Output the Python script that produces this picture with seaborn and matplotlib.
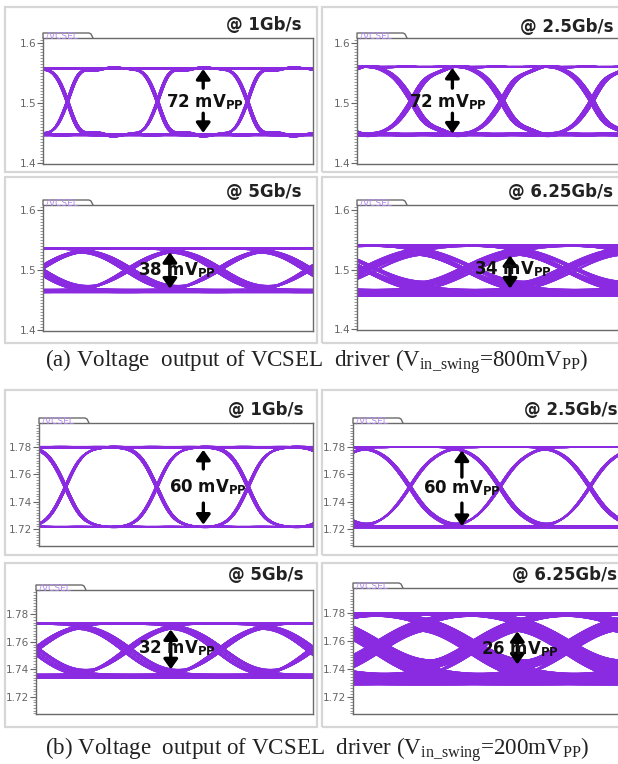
import numpy as np
import pandas as pd
import matplotlib
matplotlib.use('Agg')
import matplotlib.pyplot as plt
import seaborn as sns
from matplotlib.patches import Rectangle
from matplotlib.lines import Line2D
from matplotlib.ticker import MultipleLocator, FixedLocator

sns.set_style('white')
plt.rcParams['font.family'] = ['DejaVu Sans']
plt.rcParams['mathtext.fontset'] = 'custom'
plt.rcParams['mathtext.rm'] = 'Liberation Serif'
plt.rcParams['mathtext.it'] = 'Liberation Serif:italic'
plt.rcParams['mathtext.bf'] = 'DejaVu Sans:bold'

# ---------------- data ----------------
BITS = [1, 1, 1, 1, 0, 1, 0, 0, 0, 1, 1, 0, 0, 1, 0, 1, 1, 1, 0, 0, 0, 0, 1, 0,
        1, 0, 1, 1, 0, 1, 1, 0, 0, 1, 1, 1, 1, 1, 0, 0, 0, 1, 0, 0, 1, 0, 1, 1,
        0, 0, 0, 0, 0, 1, 1, 1, 0, 1, 0, 0, 1, 1, 0, 1]

RATES = ['@ 1Gb/s', '@ 2.5Gb/s', '@ 5Gb/s', '@ 6.25Gb/s',
         '@ 1Gb/s', '@ 2.5Gb/s', '@ 5Gb/s', '@ 6.25Gb/s']
LOW = [1.447, 1.447, 1.464, 1.460, 1.7215, 1.7215, 1.7345, 1.7318]
HIGH = [1.558, 1.561, 1.537, 1.541, 1.7800, 1.7800, 1.7735, 1.7795]
EDGE = [0.11, 0.19, 0.30, 0.38, 0.16, 0.24, 0.30, 0.42]
RING = [0.05, 0.04, 0.0, 0.0, 0.01, 0.01, 0.0, 0.0]
EYE_MV = ['72', '72', '38', '34', '60', '60', '32', '26']

# per-trace spread (time shift in UI, gain, offset as fraction of swing)
DT = [[0, 0.012, -0.008],
      [0, 0.02, -0.015, 0.035],
      [0, 0.03, -0.03, 0.05, -0.05],
      [0, 0.04, -0.04, 0.08, -0.07, 0.02, -0.02, 0.10],
      [0, 0.01, -0.01],
      [0, 0.015, -0.012],
      [0, 0.03, -0.03, 0.05, -0.05],
      [0, 0.04, -0.04, 0.08, -0.07, 0.02, -0.02, 0.10, -0.09, 0.05]]
GAIN = [[1, 0.99, 1.01],
        [1, 0.98, 1.01, 0.99],
        [1, 0.97, 1.02, 0.95, 1.0],
        [1, 0.96, 1.03, 0.94, 0.98, 1.05, 0.97, 1.0],
        [1, 1.0, 0.99],
        [1, 0.99, 1.01],
        [1, 0.97, 1.02, 0.95, 1.0],
        [1, 0.95, 1.04, 0.92, 0.97, 1.06, 0.94, 1.0, 1.02, 0.93]]
OFF = [[0, 0.004, -0.004],
       [0, 0.008, -0.006, 0.003],
       [0, 0.01, -0.01, 0.02, -0.015],
       [0, 0.03, -0.02, 0.04, 0.015, -0.035, 0.02, -0.01],
       [0, 0.003, -0.003],
       [0, 0.006, -0.005],
       [0, 0.01, -0.01, 0.02, -0.015],
       [0, 0.025, -0.02, 0.04, 0.01, -0.035, 0.03, -0.01, -0.025, 0.015]]

YTICKS_A = [1.4, 1.5, 1.6]
YTICKS_B = [1.72, 1.74, 1.76, 1.78]
CAPTIONS = [r'(a) Voltage  output of VCSEL  driver (V$_{\mathrm{in\_swing}}$=800mV$_{\mathrm{PP}}$)',
            r'(b) Voltage  output of VCSEL  driver (V$_{\mathrm{in\_swing}}$=200mV$_{\mathrm{PP}}$)']

# ---------------- layout (pixels) ----------------
W_PX, H_PX = 618, 764
PURPLE = '#8a2be2'
AXBOX = [(43, 38, 313, 164), (357, 38, 627, 164), (43, 205, 313, 331), (357, 205, 627, 330),
         (39, 423, 313, 546), (353, 423, 623, 546), (36, 590, 313, 714), (353, 588, 623, 714)]
UI_PX = [90, 90, 90, 100, 91.3, 90, 92.3, 95]
PHASE = [0.27, 0.60, 0.95, 0.10, 0.29, 0.63, 0.99, 0.25]
FRAME = [(5, 7, 317, 172), (322, 7, 640, 172), (5, 177, 317, 343), (322, 177, 640, 343),
         (5, 390, 317, 555), (322, 390, 640, 555), (5, 563, 317, 727), (322, 563, 640, 727)]
RATE_POS = [(302, 25), (613, 27), (302, 192), (613, 192), (303, 410), (617, 410), (303, 575), (617, 575)]
YLIM_A = (1.398, 1.609)
YLIM_B = (1.7076, 1.7976)
# annotation: text (x,y), arrows list of (x, tail, tip[, 'd' for double])
ANN_TEXT = [(1.80, 1.502), (1.01, 1.502), (1.49, 1.500), (1.56, 1.500),
            (1.85, 1.7507), (1.21, 1.750), (1.53, 1.755), (1.76, 1.754)]
ANN_ARROWS = [[(1.78, 1.525, 1.557), (1.78, 1.483, 1.450)],
              [(1.06, 1.525, 1.559), (1.06, 1.483, 1.449)],
              [(1.41, 1.469, 1.530, 'd')],
              [(1.53, 1.468, 1.524, 'd')],
              [(1.80, 1.764, 1.778), (1.80, 1.739, 1.7232)],
              [(1.21, 1.758, 1.7775), (1.21, 1.739, 1.7222)],
              [(1.46, 1.740, 1.769, 'd')],
              [(1.73, 1.743, 1.7667, 'd')]]
LW = [1.2, 1.1, 1.0, 1.0, 1.2, 1.1, 1.0, 1.5]
ALPHA = [0.7, 0.65, 0.55, 0.55, 0.7, 0.65, 0.55, 0.7]
SPU = 40  # samples per UI


def erf(x):
    s = np.sign(x)
    a = np.abs(x)
    t = 1.0 / (1.0 + 0.3275911 * a)
    y = 1 - (((((1.061405429 * t - 1.453152027) * t) + 1.421413741) * t - 0.284496736) * t
             + 0.254829592) * t * np.exp(-a * a)
    return s * y


def edge(x, s):
    return 0.5 * (1 + erf(x / (s * np.sqrt(2))))


def waveform(bits, t, s, ring):
    y = np.full_like(t, float(bits[0]))
    for k in range(1, len(bits)):
        d = bits[k] - bits[k - 1]
        if d:
            x = t - k
            e = edge(x, s)
            r = 0.0
            if ring:
                xp = np.clip(x, 0, None)
                r = ring * e * np.exp(-xp / 0.5) * np.sin(2 * np.pi * xp / 0.42)
            y = y + d * (e + r)
    return y


def px2fig(l, t, r, b):
    return [l / W_PX, 1 - b / H_PX, (r - l) / W_PX, (b - t) / H_PX]


fig = plt.figure(figsize=(W_PX / 100, H_PX / 100), dpi=100)
fig.patch.set_facecolor('white')

N = len(BITS)
tgrid = np.arange(N * SPU) / SPU

for i in range(8):
    l, t, r, b = FRAME[i]
    fig.add_artist(Rectangle((l / W_PX, 1 - b / H_PX), (r - l) / W_PX, (b - t) / H_PX,
                             transform=fig.transFigure, fill=False, ec='#d6d6d6', lw=1.6))
    al, at, ar, ab = AXBOX[i]
    ax = fig.add_axes(px2fig(al, at, ar, ab))
    W = (ar - al) / UI_PX[i]
    base = waveform(BITS, tgrid, EDGE[i], RING[i])
    lo, hi = LOW[i], HIGH[i]
    sw = hi - lo
    rows = []
    unit = 0
    for dt, g, o in zip(DT[i], GAIN[i], OFF[i]):
        v = lo + sw * (g * (base - 0.5) + 0.5 + o)
        for k in range(2, N - 4):
            x = tgrid - (k - PHASE[i]) + dt
            m = (x >= -0.05) & (x <= W + 0.05)
            rows.append(pd.DataFrame({'x': x[m], 'v': v[m], 'unit': unit}))
            unit += 1
    df = pd.concat(rows, ignore_index=True)
    sns.lineplot(data=df, x='x', y='v', units='unit', estimator=None, sort=False,
                 color=PURPLE, lw=LW[i], alpha=ALPHA[i], ax=ax, legend=False)
    ax.set_xlim(0, W)
    grp_a = i < 4
    ax.set_ylim(*(YLIM_A if grp_a else YLIM_B))
    ax.set_xlabel('')
    ax.set_ylabel('')
    ax.set_xticks([])
    ticks = YTICKS_A if grp_a else YTICKS_B
    ax.yaxis.set_major_locator(FixedLocator(ticks))
    ax.set_yticklabels([f'{v:.1f}' if grp_a else f'{v:.2f}' for v in ticks])
    ax.yaxis.set_minor_locator(MultipleLocator(0.005 if grp_a else 0.002))
    ax.tick_params(axis='y', which='major', direction='out', length=4, width=0.8,
                   color='#666666', labelsize=7.5, labelcolor='#666666', pad=1, left=True)
    ax.tick_params(axis='y', which='minor', direction='out', length=2, width=0.6,
                   color='#888888', left=True)
    for sp in ax.spines.values():
        sp.set_color('#6a6a6a')
        sp.set_linewidth(1.0)
    ax.set_facecolor('white')

    # annotation arrows and text
    for arr in ANN_ARROWS[i]:
        style = '<|-|>,head_length=0.45,head_width=0.32' if len(arr) == 4 else '-|>,head_length=0.45,head_width=0.32'
        ax.annotate('', xy=(arr[0], arr[2]), xytext=(arr[0], arr[1]),
                    arrowprops=dict(arrowstyle=style, color='black', lw=2.4, mutation_scale=13,
                                    shrinkA=0, shrinkB=0), zorder=5)
    tx, ty = ANN_TEXT[i]
    ax.text(tx, ty, EYE_MV[i] + r' mV$_{\mathbf{PP}}$', ha='center', va='center', fontsize=12,
            fontweight='bold', color='#111111', zorder=6)

    # "/VCSEL" tab
    pts = [(al, at), (al, at - 5), (al + 46, at - 5), (al + 48, at - 4), (al + 49, at - 2), (al + 50, at)]
    fig.add_artist(Line2D([p[0] / W_PX for p in pts], [1 - p[1] / H_PX for p in pts],
                          transform=fig.transFigure, color='#6a6a6a', lw=1.0))
    fig.text((al + 3) / W_PX, 1 - (at - 2.0) / H_PX, '/VCSEL', fontsize=6.5, color='#b48af2',
             ha='left', va='center')

    rx, ry = RATE_POS[i]
    fig.text(rx / W_PX, 1 - ry / H_PX, RATES[i], ha='right', va='center', fontsize=12,
             fontweight='bold', color='#222222')

fig.text(45 / W_PX, 1 - 362 / H_PX, CAPTIONS[0], ha='left', va='center', fontsize=16.6,
         family='Liberation Serif', color='#222222')
fig.text(45 / W_PX, 1 - 750 / H_PX, CAPTIONS[1], ha='left', va='center', fontsize=16.6,
         family='Liberation Serif', color='#222222')

fig.savefig('out.png', dpi=100, facecolor='white')
